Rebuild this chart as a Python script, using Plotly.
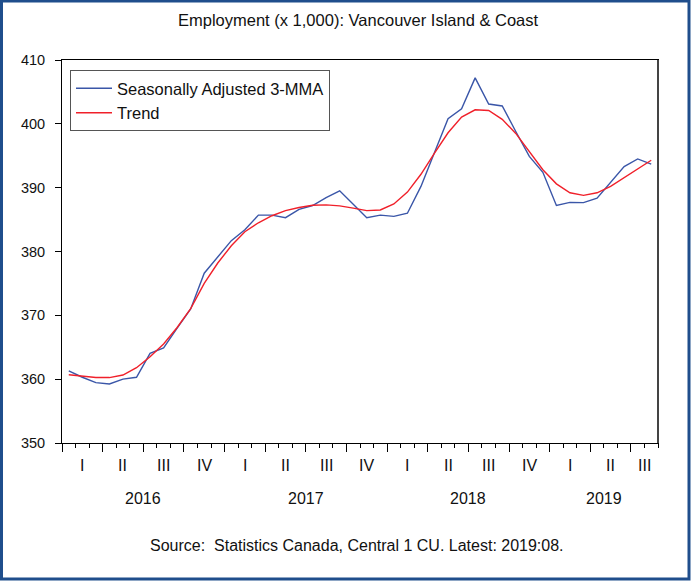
import plotly.graph_objects as go

# ---- data (monthly, Jan 2016 .. Aug 2019) ----
sa_3mma = [361.3, 360.3, 359.45, 359.25, 360.0, 360.3, 364.05, 364.9, 368.0, 371.0,
           376.6, 379.2, 381.7, 383.4, 385.7, 385.7, 385.3, 386.6, 387.2, 388.45,
           389.5, 387.4, 385.3, 385.7, 385.5, 386.0, 390.2, 395.5, 400.8, 402.35,
           407.2, 403.1, 402.8, 398.8, 394.9, 392.4, 387.2, 387.7, 387.65, 388.35,
           390.9, 393.3, 394.5, 393.7]
trend = [360.7, 360.5, 360.25, 360.25, 360.65, 361.8, 363.5, 365.5, 368.1, 371.05,
         375.0, 378.2, 380.9, 383.1, 384.5, 385.6, 386.4, 386.9, 387.25, 387.3,
         387.15, 386.8, 386.4, 386.5, 387.45, 389.3, 392.1, 395.4, 398.6, 401.05,
         402.2, 402.1, 400.7, 398.5, 395.65, 392.8, 390.6, 389.2, 388.8, 389.2,
         390.2, 391.6, 392.95, 394.3]
quarter_names = ["I", "II", "III", "IV"]
year_labels = ["2016", "2017", "2018", "2019"]
y_ticks = [350, 360, 370, 380, 390, 400, 410]
title_text = "Employment (x 1,000): Vancouver Island & Coast"
source_text = "Source:  Statistics Canada, Central 1 CU. Latest: 2019:08."

n = len(sa_3mma)
months = list(range(n))

FONT = "Liberation Sans, Arial, sans-serif"

# geometry (pixels)
W, H = 691, 581
ML, MR, MT, MB = 62, 33, 60, 138
PW, PH = W - ML - MR, H - MT - MB


def px_x(p):
    return (p - ML) / PW


def px_y(p):
    return (H - MB - p) / PH


fig = go.Figure()
fig.add_trace(go.Scatter(x=months, y=sa_3mma, mode="lines",
                         name="Seasonally Adjusted 3-MMA",
                         line=dict(color="#3A56A8", width=1.4)))
fig.add_trace(go.Scatter(x=months, y=trend, mode="lines", name="Trend",
                         line=dict(color="#F0202A", width=1.4)))

annotations = []
# quarter labels
nq = (n + 2) // 3
for q in range(nq):
    m0 = 3 * q
    m1 = min(3 * q + 2, n - 1)
    annotations.append(dict(x=(m0 + m1) / 2, y=px_y(465), xref="x", yref="paper",
                            text=quarter_names[q % 4], showarrow=False,
                            font=dict(family=FONT, size=16, color="#111"),
                            xanchor="center", yanchor="middle"))
# year labels
for k, yl in enumerate(year_labels):
    m0 = 12 * k
    m1 = min(12 * k + 11, n - 1)
    annotations.append(dict(x=(m0 + m1) / 2, y=px_y(498), xref="x", yref="paper",
                            text=yl, showarrow=False,
                            font=dict(family=FONT, size=16, color="#111"),
                            xanchor="center", yanchor="middle"))
# title & source
annotations.append(dict(x=px_x(358), y=px_y(20), xref="paper", yref="paper",
                        text=title_text, showarrow=False,
                        font=dict(family=FONT, size=16.5, color="#111"),
                        xanchor="center", yanchor="middle"))
annotations.append(dict(x=px_x(357), y=px_y(545), xref="paper", yref="paper",
                        text=source_text, showarrow=False,
                        font=dict(family=FONT, size=16, color="#111"),
                        xanchor="center", yanchor="middle"))

shapes = [
    dict(type="rect", xref="paper", yref="paper",
         x0=px_x(1.5), x1=px_x(689), y0=px_y(579), y1=px_y(1),
         line=dict(color="#1F4E8C", width=3), layer="below"),
    dict(type="line", xref="paper", yref="paper", x0=1, x1=1, y0=0, y1=1,
         line=dict(color="#444", width=2), layer="above"),
]

fig.update_layout(
    width=W, height=H,
    margin=dict(l=ML, r=MR, t=MT, b=MB, pad=0),
    paper_bgcolor="white", plot_bgcolor="white",
    font=dict(family=FONT, size=15, color="#111"),
    showlegend=True,
    legend=dict(x=px_x(70), y=px_y(70), xanchor="left", yanchor="top",
                bgcolor="white", bordercolor="#555", borderwidth=1,
                font=dict(family=FONT, size=16.5, color="#111"),
                itemwidth=36, tracegroupgap=0),
    annotations=annotations,
    shapes=shapes,
    xaxis=dict(range=[-0.5, n - 0.5], showgrid=False, zeroline=False,
               showline=True, linecolor="black", linewidth=1, mirror=True,
               tickmode="array", tickvals=[v - 0.5 for v in range(0, n + 1, 3)],
               ticks="outside", ticklen=8, tickcolor="black", tickwidth=1,
               showticklabels=False,
               minor=dict(tickmode="linear", tick0=-0.5, dtick=1,
                          ticks="outside", ticklen=4, tickcolor="black",
                          tickwidth=1, showgrid=False)),
    yaxis=dict(range=[350, 410], showgrid=False, zeroline=False,
               showline=True, linecolor="black", linewidth=1, mirror=True,
               tickmode="array", tickvals=y_ticks,
               ticks="outside", ticklen=6, tickcolor="black",
               ticklabelstandoff=7,
               tickfont=dict(family=FONT, size=14.5, color="#111")),
)

fig.write_html("out.html", config={"displayModeBar": False},
               post_script="document.body.style.margin='0';document.body.style.overflow='hidden';")
